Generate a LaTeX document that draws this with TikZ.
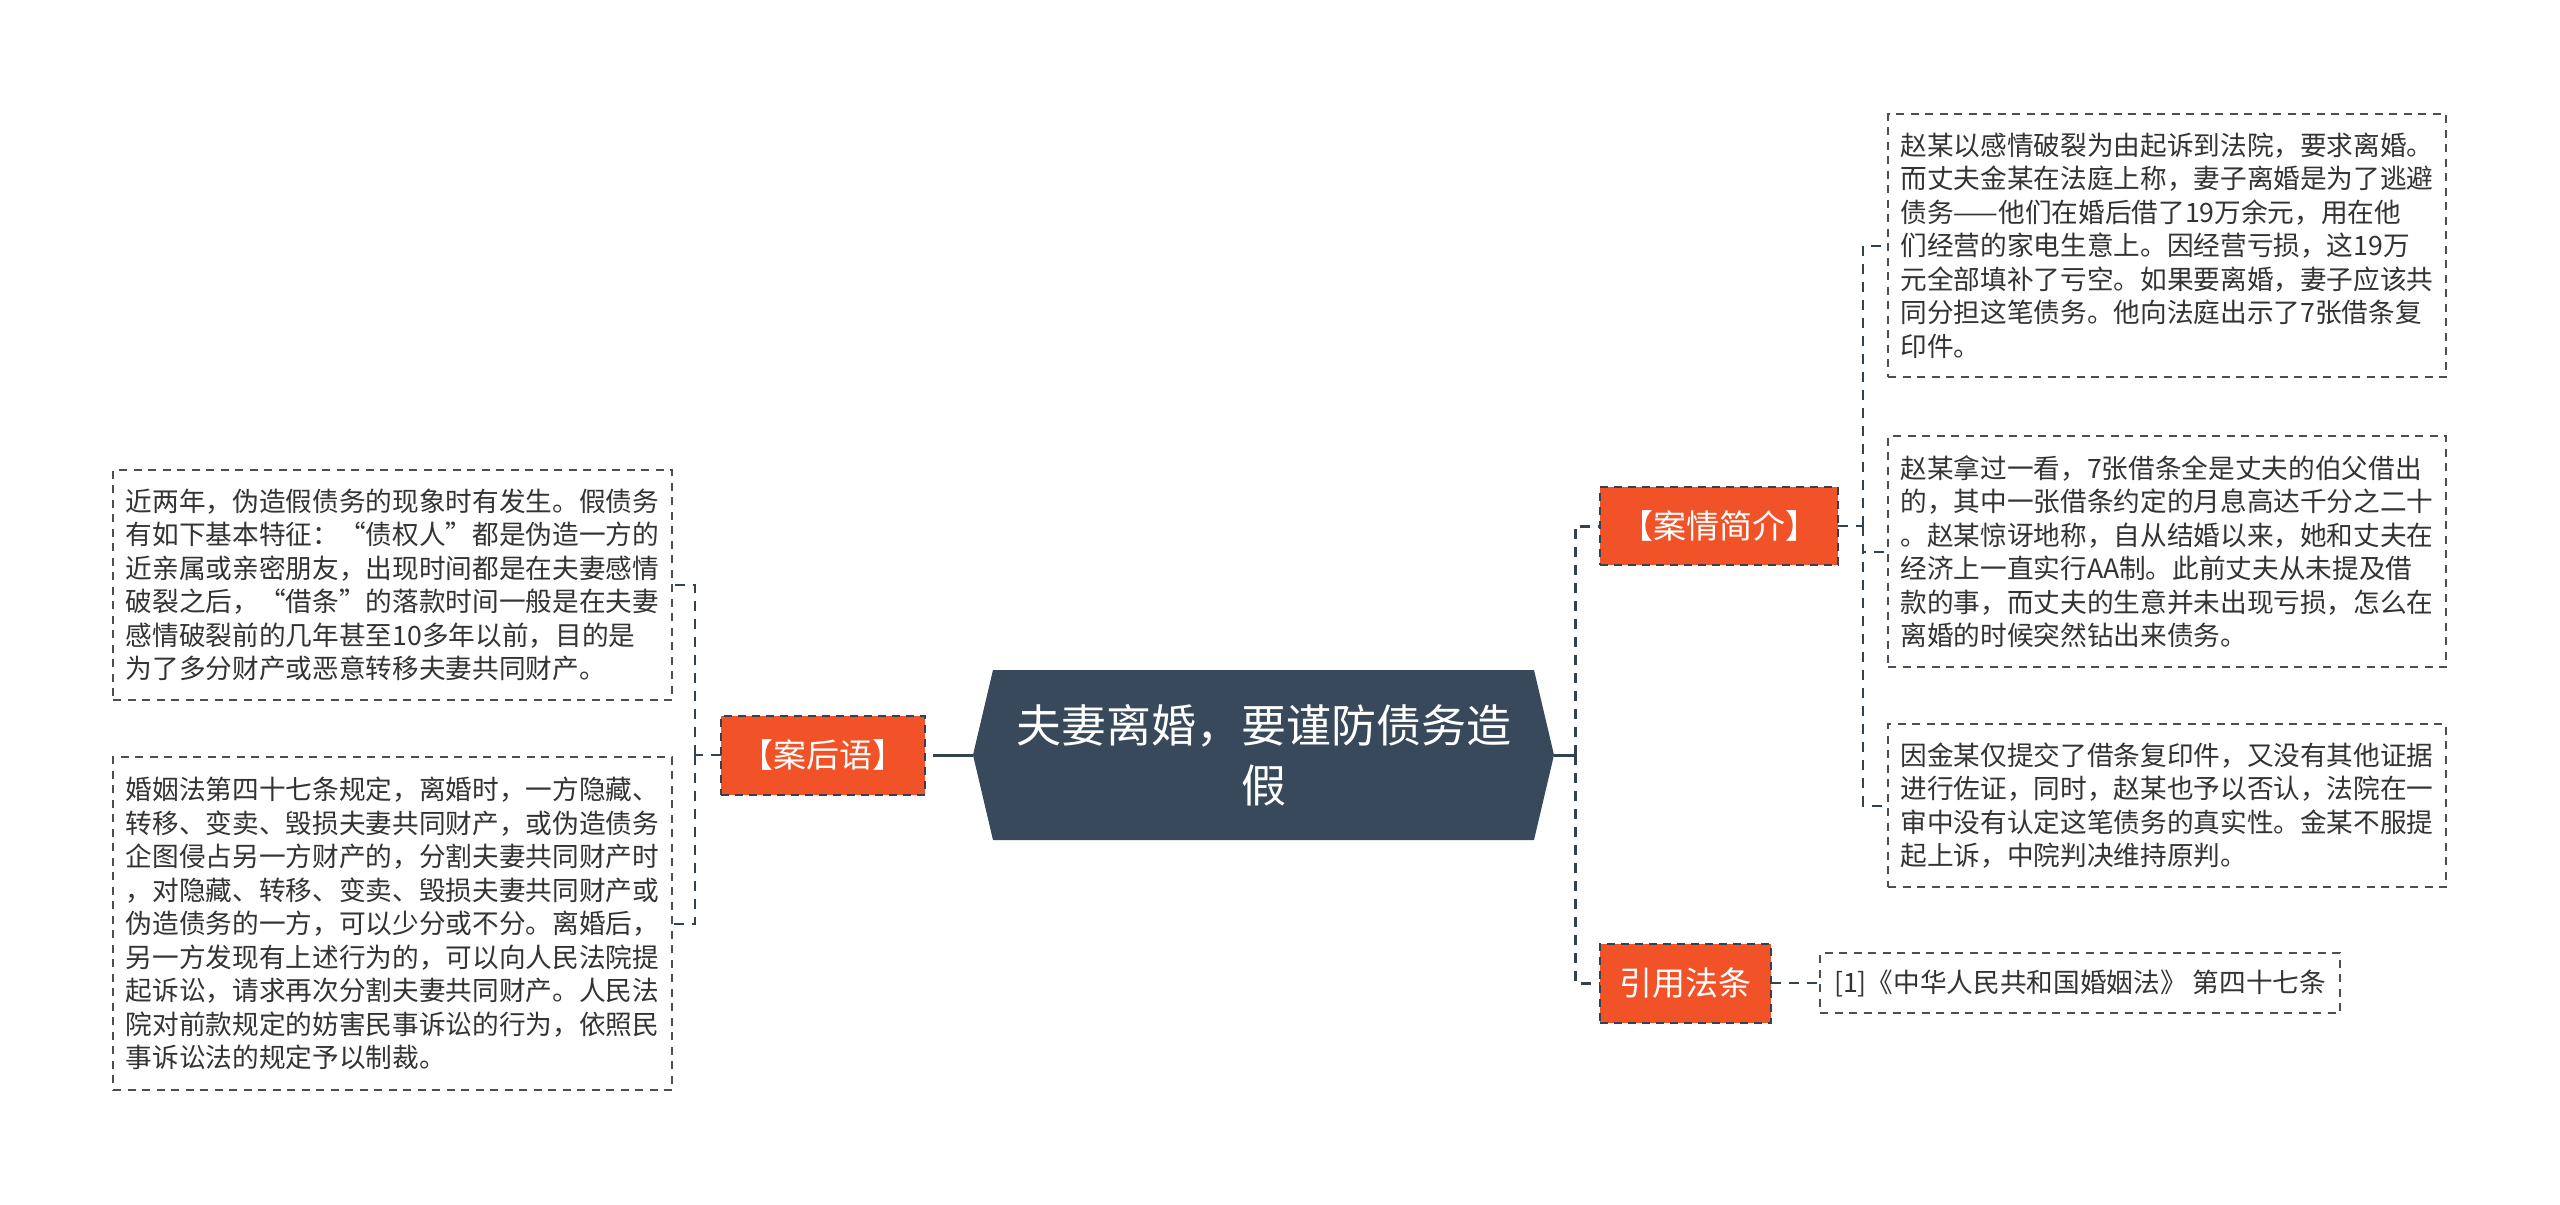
\documentclass[tikz,border=0pt]{standalone}
\usepackage{fontspec}
\newfontfamily\cjk{Noto Sans CJK SC}
\usetikzlibrary{backgrounds}
\definecolor{slate}{HTML}{37495A}
\definecolor{orng}{HTML}{F25227}
\definecolor{conn}{HTML}{34424F}
\definecolor{txt}{HTML}{333333}
\definecolor{bord}{HTML}{4A4F55}
\begin{document}
\begin{tikzpicture}[x=0.5pt,y=-0.5pt,
  every node/.style={inner sep=0pt, outer sep=0pt},
  textbox/.style={draw=bord, line width=1pt, dash pattern=on 4pt off 3.25pt, fill=white, align=left, text=txt, font=\cjk\fontsize{13.33pt}{16.75pt}\selectfont},
  branch/.style={draw=conn, line width=1pt, dash pattern=on 4pt off 3pt, fill=orng, text=white, font=\cjk\fontsize{16.5pt}{20pt}\selectfont},
  trunk/.style={draw=conn, line width=1.5pt, dash pattern=on 5pt off 4pt},
  trunksolid/.style={draw=conn, line width=1.5pt},
  twig/.style={draw=conn, line width=1pt, dash pattern=on 5pt off 4pt},
]
\useasboundingbox (0,0) rectangle (2560,1205);

% central topic
\node[minimum width=270.5pt, minimum height=85pt, text=white, align=center,
      font=\cjk\fontsize{22.5pt}{30pt}\selectfont] (root) at (1263.5,755)
      {夫妻离婚，要谨防债务造\\假};
\coordinate (rootL) at ([xshift=-10pt]root.west);
\coordinate (rootR) at ([xshift=10pt]root.east);
\begin{scope}[on background layer]
\fill[white] (0,0) rectangle (2560,1205);
\fill[slate] (rootL) -- (root.north west) -- (root.north east) -- (rootR)
  -- (root.south east) -- (root.south west) -- cycle;
\end{scope}

% branches
\node[branch, minimum width=102pt, minimum height=39.5pt] (hou) at (823,755) {【案后语】};
\node[branch, minimum width=119pt, minimum height=39pt] (jian) at (1719,526) {【案情简介】};
\node[branch, minimum width=85.5pt, minimum height=39.5pt] (yin) at (1685.5,983) {引用法条};

% left leaves
\node[textbox, minimum width=279.5pt, minimum height=115pt] (L1) at (392.5,585) {%
近两年，伪造假债务的现象时有发生。假债务\\
有如下基本特征：“债权人”都是伪造一方的\\
近亲属或亲密朋友，出现时间都是在夫妻感情\\
破裂之后，“借条”的落款时间一般是在夫妻\\
感情破裂前的几年甚至10多年以前，目的是\\
为了多分财产或恶意转移夫妻共同财产。};
\node[textbox, minimum width=279.5pt, minimum height=166.5pt] (L2) at (392.5,923.5) {%
婚姻法第四十七条规定，离婚时，一方隐藏、\\
转移、变卖、毁损夫妻共同财产，或伪造债务\\
企图侵占另一方财产的，分割夫妻共同财产时\\
，对隐藏、转移、变卖、毁损夫妻共同财产或\\
伪造债务的一方，可以少分或不分。离婚后，\\
另一方发现有上述行为的，可以向人民法院提\\
起诉讼，请求再次分割夫妻共同财产。人民法\\
院对前款规定的妨害民事诉讼的行为，依照民\\
事诉讼法的规定予以制裁。};

% right leaves
\node[textbox, minimum width=279pt, minimum height=131.5pt] (R1) at (2167,245.5) {%
赵某以感情破裂为由起诉到法院，要求离婚。\\
而丈夫金某在法庭上称，妻子离婚是为了逃避\\
债务——他们在婚后借了19万余元，用在他\\
们经营的家电生意上。因经营亏损，这19万\\
元全部填补了亏空。如果要离婚，妻子应该共\\
同分担这笔债务。他向法庭出示了7张借条复\\
印件。};
\node[textbox, minimum width=279pt, minimum height=115.5pt] (R2) at (2167,551.5) {%
赵某拿过一看，7张借条全是丈夫的伯父借出\\
的，其中一张借条约定的月息高达千分之二十\\
。赵某惊讶地称，自从结婚以来，她和丈夫在\\
经济上一直实行AA制。此前丈夫从未提及借\\
款的事，而丈夫的生意并未出现亏损，怎么在\\
离婚的时候突然钻出来债务。};
\node[textbox, minimum width=279pt, minimum height=81.5pt] (R3) at (2167,805.5) {%
因金某仅提交了借条复印件，又没有其他证据\\
进行佐证，同时，赵某也予以否认，法院在一\\
审中没有认定这笔债务的真实性。金某不服提\\
起上诉，中院判决维持原判。};
\node[textbox, minimum width=260pt, minimum height=30pt] (ref) at (2080,983) {[1]《中华人民共和国婚姻法》 第四十七条};

% connectors right
\coordinate (bR) at (1575,755);
\draw[trunksolid] (rootR) -- (bR);
\draw[trunk] (bR) |- (jian.west);
\draw[trunk] (bR) |- (yin.west);
\coordinate (bJ) at (1863,526);
\draw[twig] (jian.east) -- (bJ);
\draw[twig] (bJ) |- (R1.west);
\draw[twig] (bJ) |- (R2.west);
\draw[twig] (bJ) |- (R3.west);
\draw[twig] (yin.east) -- (ref.west);

% connectors left
\coordinate (rootLs) at (943,755);
\draw[trunksolid] (rootL) -- (rootLs);
\draw[trunk] (rootLs) -- (hou.east);
\coordinate (bH) at (695,755);
\draw[twig] (hou.west) -- (bH);
\draw[twig] (bH) |- (L1.east);
\draw[twig] (bH) |- (L2.east);
\end{tikzpicture}
\end{document}
